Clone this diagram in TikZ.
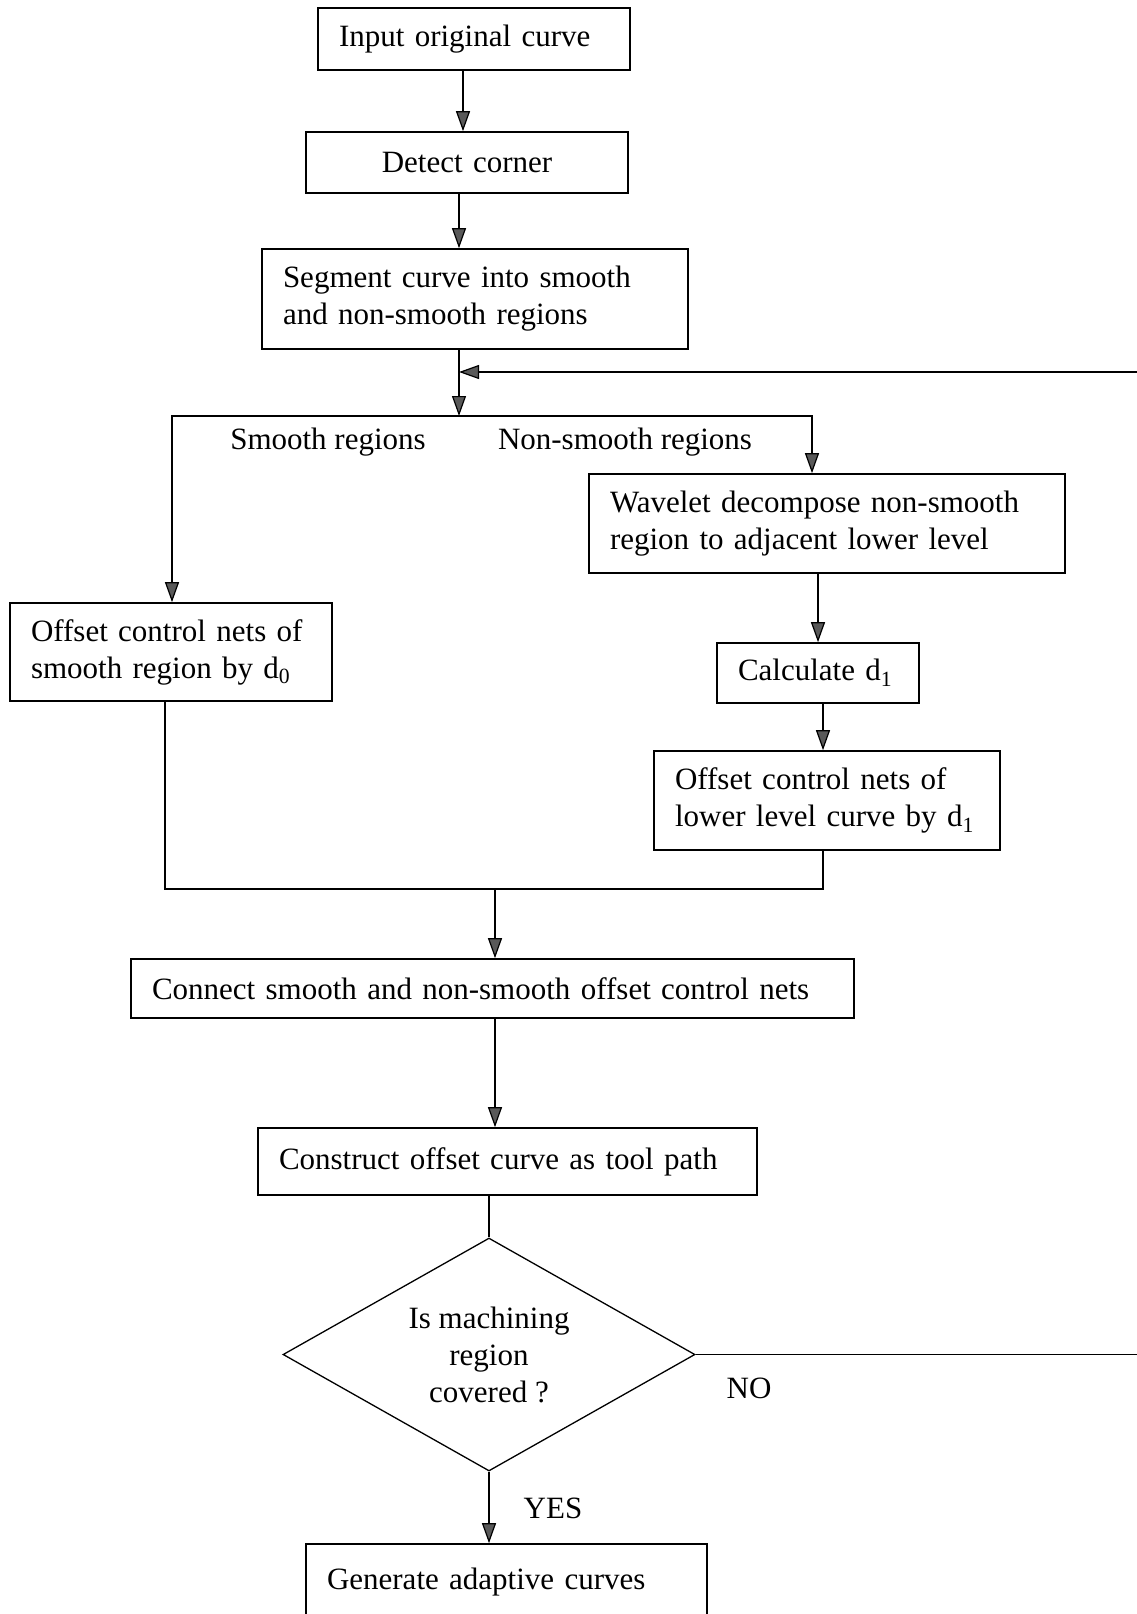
\documentclass[tikz,border=0pt]{standalone}
\usepackage{fontspec}
\setmainfont{Liberation Serif}
\usetikzlibrary{shapes.geometric,arrows.meta}
\begin{document}
\begin{tikzpicture}[x=1pt,y=-1pt,
  every node/.style={font=\fontsize{31}{37}\selectfont},
  box/.style={draw,line width=1.6pt,rectangle,inner xsep=21pt,inner ysep=0pt,align=left},
  lbl/.style={inner sep=0pt},
  ln/.style={line width=1.2pt},
  arr/.style={ln,-{Triangle[length=20pt,width=14pt,fill=black!65]}}
]
\useasboundingbox (0,0) rectangle (1136,1614);
% boxes
\node[box,minimum width=312pt,minimum height=62pt,text width=270pt] (b1) at (474,39) {Input original curve};
\node[box,minimum width=322pt,minimum height=61pt,text width=280pt,align=center] (b2) at (467,162.5) {Detect corner};
\node[box,minimum width=426pt,minimum height=100pt,text width=384pt] (b3) at (475,299) {Segment curve into smooth\\and non-smooth regions};
\node[box,minimum width=322pt,minimum height=98pt,text width=280pt] (b4) at (171,652) {Offset control nets of\\smooth region by d\textsubscript{0}};
\node[box,minimum width=476pt,minimum height=99pt,text width=434pt] (b5) at (827,523.5) {Wavelet decompose non-smooth\\region to adjacent lower level};
\node[box,minimum width=202pt,minimum height=60pt,text width=160pt] (b6) at (818,673) {Calculate d\textsubscript{1}};
\node[box,minimum width=346pt,minimum height=99pt,text width=304pt] (b7) at (827,800.5) {Offset control nets of\\lower level curve by d\textsubscript{1}};
\node[box,minimum width=723pt,minimum height=59pt,text width=681pt] (b8) at (492.5,988.5) {Connect smooth and non-smooth offset control nets};
\node[box,minimum width=499pt,minimum height=67pt,text width=457pt] (b9) at (507.5,1161.5) {Construct offset curve as tool path};
\node[draw,line width=1.3pt,diamond,aspect=1.768,minimum width=412pt,minimum height=233pt,inner sep=0pt,align=center] (dia) at (489,1354.5) {Is machining\\region\\covered ?};
\node[box,minimum width=401pt,minimum height=76pt,text width=359pt] (b10) at (506.5,1582) {Generate adaptive curves};
% labels
\node[lbl] (ls) at (328,442) {Smooth regions};
\node[lbl] (lns) at (625,442) {Non-smooth regions};
\node[lbl] (lno) at (749,1388) {NO};
\node[lbl] (lyes) at (553,1508) {YES};
% helper coordinates
\coordinate (a1) at (463,0);
\coordinate (brC) at (459,416);
\coordinate (brL) at (172,416);
\coordinate (brR) at (812,416);
\coordinate (mrg) at (459,372);
\coordinate (loopR) at (1160,372);
\coordinate (a5) at (818,0);
\coordinate (a6) at (823,0);
\coordinate (jL) at (165,889);
\coordinate (jR) at (823,889);
\coordinate (jM) at (495,889);
% connectors
\draw[arr] (b1.south -| a1) -- (b2.north -| a1);
\draw[arr] (b2.south -| brC) -- (b3.north -| brC);
\draw[arr] (b3.south -| brC) -- (brC);
\draw[arr] (brC) -- (brL) -- (b4.north -| brL);
\draw[arr] (brC) -- (brR) -- (b5.north -| brR);
\draw[arr] (b5.south -| a5) -- (b6.north -| a5);
\draw[arr] (b6.south -| a6) -- (b7.north -| a6);
\draw[ln] (b4.south -| jL) -- (jL) -- (jR) -- (b7.south -| jR);
\draw[arr] (jM) -- (b8.north -| jM);
\draw[arr] (b8.south -| jM) -- (b9.north -| jM);
\draw[ln] (b9.south -| dia.north) -- (dia.north);
\draw[arr] (dia.south) -- (b10.north -| dia.south);
\draw[arr] (dia.east) -| (loopR) -- (mrg);
\end{tikzpicture}
\end{document}
